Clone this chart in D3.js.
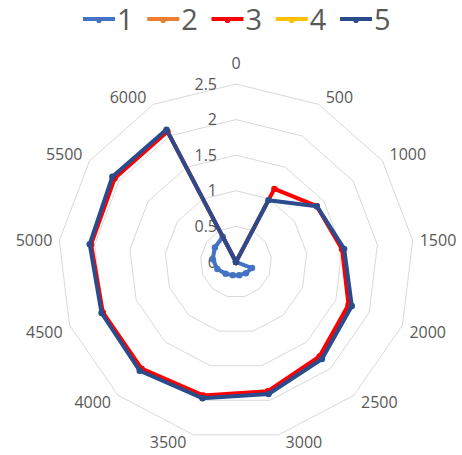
<!DOCTYPE html>
<html><head><meta charset="utf-8">
<script src="https://cdn.jsdelivr.net/npm/d3@7"></script>
<style>body{margin:0;background:#fff}svg{display:block;font-family:"Open Sans",sans-serif}</style>
</head><body>
<svg id="c" width="462" height="455"></svg>
<script>
const categories = ["0","500","1000","1500","2000","2500","3000","3500","4000","4500","5000","5500","6000"];
const seriesNames = ["1","2","3","4","5"];
const seriesColors = ["#4472C4","#ED7D31","#FF0000","#FFC000","#2B4C8C"];
const s1 = [0, 0, 0, 0, 0.24, 0.21, 0.19, 0.19, 0.22, 0.28, 0.33, 0.36, 0.40];
const s2 = [null,null,null,null,null,null,null,null,null,null,null,null,null];
const s3 = [0, 1.16, 1.38, 1.50, 1.69, 1.77, 1.87, 1.93, 2.00, 2.00, 2.05, 2.07, 2.07];
const s4 = [null,null,null,null,null,null,null,null,null,null,null,null,null];
const s5 = [0, 0.98, 1.38, 1.53, 1.74, 1.82, 1.91, 1.97, 2.04, 2.02, 2.07, 2.11, 2.10];
const seriesValues = [s1, s2, s3, s4, s5];
const ticks = [0, 0.5, 1, 1.5, 2, 2.5];

const svg = d3.select("#c");
const cx = 236, cy = 262, R = 178;
const n = categories.length;
const r = d3.scaleLinear().domain([0, 2.5]).range([0, R]);
const ang = d3.scaleLinear().domain([0, n]).range([0, 2 * Math.PI]);
const g = svg.append("g").attr("transform", `translate(${cx},${cy})`);
const textColor = "#595959";

// grid rings
const ring = d3.lineRadial().angle((d, i) => ang(i)).radius(d => r(d)).curve(d3.curveLinearClosed);
ticks.filter(t => t > 0).forEach(t => {
  g.append("path").attr("d", ring(categories.map(() => t)))
    .attr("fill", "none").attr("stroke", "#d9d9d9").attr("stroke-width", 1);
});

// value labels
g.selectAll(".vl").data(ticks).enter().append("text")
  .attr("x", -19).attr("y", d => -r(d)).attr("dy", "0.35em")
  .attr("text-anchor", "end").attr("fill", textColor).attr("font-size", 16)
  .text(d => d);

// category labels
categories.forEach((c, i) => {
  const a = ang(i), s = Math.sin(a), co = Math.cos(a);
  let x = R * s, y = -R * co;
  let anchor = "middle";
  if (s > 0.1) { anchor = "start"; x += 7; }
  else if (s < -0.1) { anchor = "end"; x -= 7; }
  let base;
  if (i === 0) { base = y - 15; }
  else if (co > 0.3) { base = y - 1; }
  else if (co < -0.3) { base = y + 13; }
  else { base = y + 5.5; }
  g.append("text").attr("x", x).attr("y", base).attr("text-anchor", anchor)
    .attr("fill", textColor).attr("font-size", 16).text(c);
});

// series
const line = d3.lineRadial().angle((d, i) => ang(i)).radius(d => r(d)).curve(d3.curveLinearClosed);
seriesValues.forEach((vals, k) => {
  if (vals.some(v => v === null)) return;
  const col = seriesColors[k];
  g.append("path").attr("d", line(vals)).attr("fill", "none")
    .attr("stroke", col).attr("stroke-width", 4).attr("stroke-linejoin", "round");
  g.selectAll(null).data(vals).enter().append("circle")
    .attr("cx", (d, i) => r(d) * Math.sin(ang(i)))
    .attr("cy", (d, i) => -r(d) * Math.cos(ang(i)))
    .attr("r", 3.2).attr("fill", col);
});

// legend
const lx = d3.scaleLinear().domain([0, 4]).range([83, 340]);
seriesNames.forEach((nm, k) => {
  const x0 = lx(k), col = seriesColors[k];
  svg.append("line").attr("x1", x0).attr("x2", x0 + 32).attr("y1", 19).attr("y2", 19)
    .attr("stroke", col).attr("stroke-width", 4);
  svg.append("circle").attr("cx", x0 + 16).attr("cy", 20.5).attr("r", 2.6).attr("fill", col);
  svg.append("text").attr("x", x0 + 34).attr("y", 30).attr("fill", textColor)
    .attr("font-size", 29).text(nm);
});
</script>
</body></html>
